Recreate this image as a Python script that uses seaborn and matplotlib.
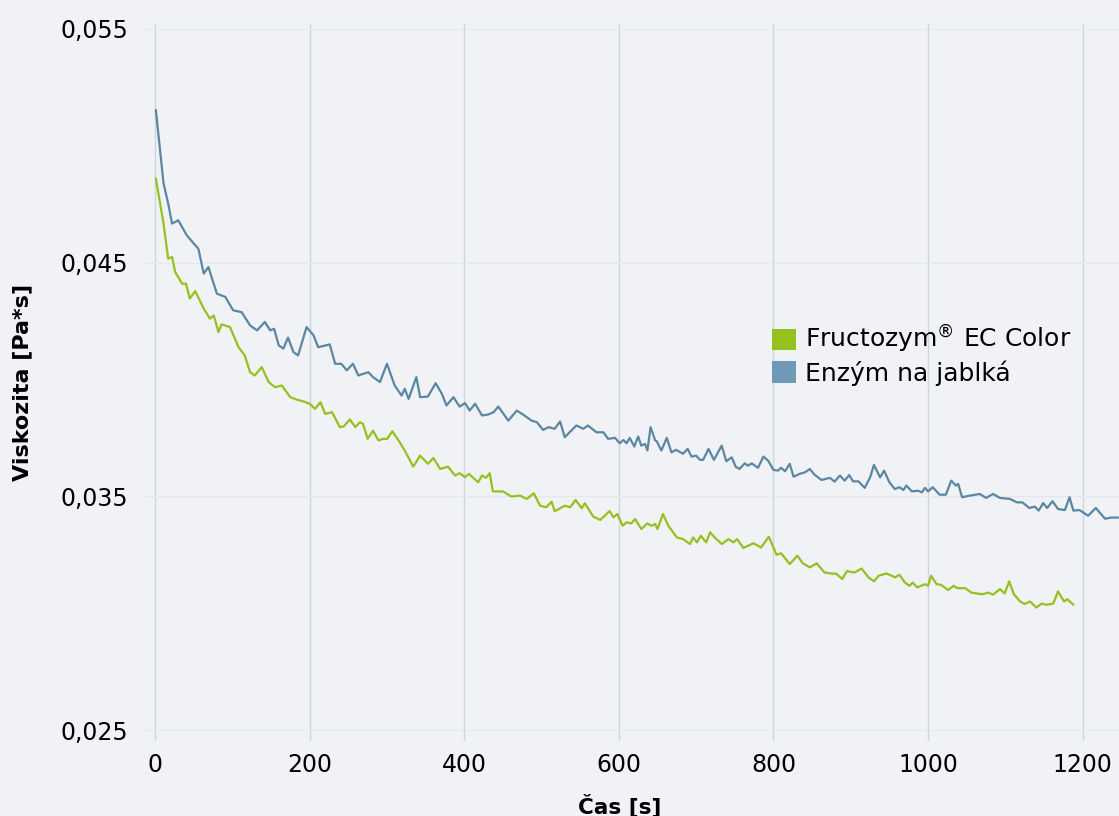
import numpy as np
import pandas as pd
import matplotlib
matplotlib.use("Agg")
import matplotlib.pyplot as plt
from matplotlib.patches import Patch
import seaborn as sns

# ---------------- data ----------------
series_names = ["Fructozym® EC Color", "Enzým na jablká"]
legend_labels = ["Fructozym$^{®}$ EC Color", "Enzým na jablká"]

green_t = [1, 11, 17, 22, 26, 35, 40, 45, 52, 63, 71, 76, 82, 86, 97, 108, 116, 123, 129, 138,
           147, 155, 164, 175, 183, 192, 200, 207, 214, 220, 229, 239, 244, 252, 259, 265, 269, 275,
           282, 289, 295, 300, 307, 315, 323, 334, 343, 353, 360, 369, 379, 388, 394, 401, 406, 418,
           423, 428, 433, 437, 450, 461, 472, 481, 490, 498, 506, 513, 517, 530, 537, 544, 552, 556,
           567, 576, 588, 593, 598, 605, 610, 616, 621, 629, 637, 642, 647, 650, 657, 664, 675, 683,
           692, 696, 701, 706, 713, 718, 724, 733, 742, 748, 753, 761, 774, 784, 794, 804, 810, 821,
           831, 838, 847, 856, 866, 876, 881, 889, 895, 905, 914, 923, 930, 936, 946, 953, 957, 963,
           970, 976, 980, 986, 996, 1000, 1004, 1011, 1017, 1026, 1033, 1038, 1048, 1056, 1070, 1078,
           1084, 1093, 1099, 1105, 1111, 1119, 1125, 1132, 1140, 1147, 1153, 1162, 1168, 1176, 1180,
           1188]
green_v = [0.0486, 0.04667, 0.04517, 0.04524, 0.0446, 0.0441, 0.0441, 0.04346, 0.04378, 0.04303,
           0.0426, 0.04274, 0.04203, 0.04236, 0.04224, 0.04138, 0.04103, 0.04031, 0.04017, 0.04053,
           0.03989, 0.03967, 0.03974, 0.03924, 0.03914, 0.03906, 0.03896, 0.03874, 0.03903, 0.03853,
           0.0386, 0.03796, 0.03799, 0.03829, 0.03796, 0.03817, 0.0381, 0.03746, 0.03781, 0.03739,
           0.03746, 0.03745, 0.03778, 0.03739, 0.03696, 0.03627, 0.03674, 0.03639, 0.03664, 0.03617,
           0.03627, 0.03589, 0.03599, 0.03582, 0.03596, 0.0356, 0.03589, 0.03579, 0.03599, 0.03521,
           0.03521, 0.03499, 0.03503, 0.03489, 0.03513, 0.0346, 0.03453, 0.03477, 0.03436, 0.0346,
           0.03453, 0.03484, 0.03449, 0.0347, 0.03413, 0.03399, 0.03437, 0.0341, 0.03424, 0.03374,
           0.03389, 0.03384, 0.03403, 0.0336, 0.03384, 0.03374, 0.03381, 0.0336, 0.03424, 0.03374,
           0.03324, 0.03317, 0.03296, 0.03324, 0.03303, 0.03331, 0.03303, 0.03346, 0.03324, 0.03296,
           0.03317, 0.03303, 0.03317, 0.03279, 0.03299, 0.03281, 0.03327, 0.0325, 0.03256, 0.0321,
           0.03246, 0.03213, 0.03196, 0.03213, 0.03174, 0.03169, 0.03169, 0.03146, 0.0318, 0.03174,
           0.03191, 0.03153, 0.03136, 0.0316, 0.0317, 0.0316, 0.03153, 0.03164, 0.03131, 0.03117,
           0.03131, 0.0311, 0.03124, 0.03117, 0.0316, 0.03124, 0.03121, 0.03099, 0.03117, 0.03107,
           0.03107, 0.03088, 0.03081, 0.03088, 0.03079, 0.03103, 0.03084, 0.03136, 0.03081, 0.0305,
           0.03039, 0.0305, 0.03024, 0.03041, 0.03036, 0.03041, 0.03093, 0.0305, 0.0306, 0.03036]

blue_t = [1, 11, 17, 22, 30, 41, 50, 56, 63, 69, 80, 91, 101, 112, 123, 132, 142, 149, 154, 160,
          166, 172, 179, 185, 196, 205, 211, 226, 233, 241, 248, 256, 263, 269, 276, 282, 291, 300,
          310, 319, 323, 328, 338, 343, 353, 363, 371, 377, 386, 394, 401, 407, 414, 423, 431, 438,
          444, 457, 468, 476, 487, 494, 502, 509, 517, 524, 530, 545, 554, 560, 571, 580, 586, 595,
          601, 606, 610, 614, 620, 625, 629, 634, 637, 641, 647, 649, 655, 662, 668, 674, 683, 689,
          694, 700, 705, 709, 716, 723, 733, 739, 746, 751, 756, 763, 767, 772, 780, 787, 793, 800,
          806, 810, 815, 821, 826, 834, 841, 847, 853, 862, 873, 879, 886, 892, 898, 903, 910, 918,
          925, 930, 938, 943, 950, 957, 963, 968, 972, 979, 987, 992, 996, 1000, 1006, 1015, 1023,
          1030, 1036, 1039, 1044, 1054, 1067, 1075, 1084, 1093, 1106, 1115, 1122, 1131, 1138, 1143,
          1149, 1154, 1161, 1168, 1177, 1183, 1188, 1196, 1207, 1217, 1229, 1237, 1246]
blue_v = [0.05153, 0.04839, 0.04753, 0.04667, 0.04681, 0.04617, 0.04582, 0.0456, 0.04453, 0.04481,
          0.04367, 0.04353, 0.04296, 0.04288, 0.04231, 0.0421, 0.04246, 0.0421, 0.04217, 0.04146,
          0.04132, 0.04179, 0.04117, 0.04103, 0.04224, 0.04189, 0.04138, 0.0415, 0.04067, 0.04067,
          0.04039, 0.04067, 0.04017, 0.04024, 0.04031, 0.0401, 0.03989, 0.04067, 0.03974, 0.03931,
          0.0396, 0.03917, 0.0401, 0.03924, 0.03927, 0.03984, 0.03939, 0.03889, 0.03924, 0.03884,
          0.03899, 0.03867, 0.03896, 0.03846, 0.0385, 0.0386, 0.03884, 0.03824, 0.03867, 0.0385,
          0.03824, 0.03817, 0.03784, 0.03796, 0.03789, 0.0382, 0.03753, 0.03803, 0.03789, 0.03803,
          0.03774, 0.03774, 0.03746, 0.0375, 0.03727, 0.03741, 0.03727, 0.0375, 0.03713, 0.03756,
          0.03717, 0.03724, 0.03696, 0.03796, 0.03739, 0.03736, 0.03696, 0.0375, 0.03688, 0.03699,
          0.03682, 0.03703, 0.0367, 0.03674, 0.03656, 0.03656, 0.03703, 0.03656, 0.03717, 0.0365,
          0.03667, 0.03627, 0.03617, 0.03641, 0.03631, 0.03641, 0.03622, 0.0367, 0.03653, 0.03613,
          0.0361, 0.03622, 0.03607, 0.03639, 0.03584, 0.03596, 0.03603, 0.03617, 0.03593, 0.0357,
          0.03579, 0.03563, 0.03589, 0.03567, 0.03591, 0.03564, 0.03564, 0.03536, 0.03581, 0.03634,
          0.03581, 0.0361, 0.0356, 0.03531, 0.03539, 0.03527, 0.03546, 0.03521, 0.03524, 0.03517,
          0.03536, 0.03521, 0.03539, 0.03507, 0.03507, 0.03567, 0.03546, 0.03553, 0.03496, 0.03503,
          0.0351, 0.03493, 0.0351, 0.03493, 0.03489, 0.03474, 0.03474, 0.0345, 0.03456, 0.03439,
          0.03471, 0.0345, 0.03479, 0.03446, 0.03441, 0.03496, 0.03439, 0.03441, 0.03417, 0.0345,
          0.03404, 0.03409, 0.03409]

y_ticks = [0.025, 0.035, 0.045, 0.055]
y_tick_labels = ["0,025", "0,035", "0,045", "0,055"]
x_ticks = [0, 200, 400, 600, 800, 1000, 1200]
x_tick_labels = ["0", "200", "400", "600", "800", "1000", "1200"]
x_label = "Čas [s]"
y_label = "Viskozita [Pa*s]"

# ---------------- style ----------------
BG = "#f0f2f6"
GREEN = "#95c11f"
BLUE_LINE = "#5a87a1"
BLUE_PATCH = "#7099b7"

sns.set_theme(style="white")
plt.rcParams["font.family"] = ["DejaVu Sans"]
plt.rcParams["text.color"] = "black"

df = pd.concat([
    pd.DataFrame({"t": green_t, "v": green_v, "series": series_names[0]}),
    pd.DataFrame({"t": blue_t, "v": blue_v, "series": series_names[1]}),
], ignore_index=True)

fig = plt.figure(figsize=(11.19, 8.16), dpi=100, facecolor=BG)
ax = fig.add_axes([145 / 1119, 1 - 741 / 816, 1 - 145 / 1119, (741 - 24) / 816])
ax.set_facecolor(BG)

# grid
for xv in x_ticks:
    ax.axvline(xv, color="#cad6e0", lw=1.0, zorder=1)
for yv in y_ticks:
    ax.axhline(yv, color="#e4e8ee", lw=1.0, zorder=1)

sns.lineplot(data=df, x="t", y="v", hue="series",
             palette={series_names[0]: GREEN, series_names[1]: BLUE_LINE},
             linewidth=1.6, sort=False, estimator=None, legend=False, ax=ax, zorder=3)

ax.set_xlim(-13, 1247)
ax.set_ylim(0.02453, 0.05521)
ax.set_xticks(x_ticks)
ax.set_xticklabels(x_tick_labels)
ax.set_yticks(y_ticks)
ax.set_yticklabels(y_tick_labels)
ax.tick_params(axis="both", length=0, labelsize=17, colors="black")
ax.tick_params(axis="x", pad=9)
ax.tick_params(axis="y", pad=12)
for s in ax.spines.values():
    s.set_visible(False)
ax.set_xlabel("")
ax.set_ylabel("")

fig.text(22 / 1119, 1 - 382 / 816, y_label, rotation=90, ha="center", va="center",
         fontsize=16, fontweight="bold", color="black")
fig.text(620 / 1119, 1 - 805 / 816, x_label, ha="center", va="center",
         fontsize=15.5, fontweight="bold", color="black")

handles = [Patch(facecolor=GREEN, edgecolor="none"), Patch(facecolor=BLUE_PATCH, edgecolor="none")]
leg = fig.legend(handles, legend_labels, loc="upper left",
                 bbox_to_anchor=(772 / 1119, 1 - 323 / 816),
                 frameon=False, fontsize=18, handlelength=0.95, handleheight=0.95,
                 handletextpad=0.35, labelspacing=0.2, borderpad=0, borderaxespad=0,
                 labelcolor="black")

fig.savefig("out.png", dpi=100, facecolor=BG)
